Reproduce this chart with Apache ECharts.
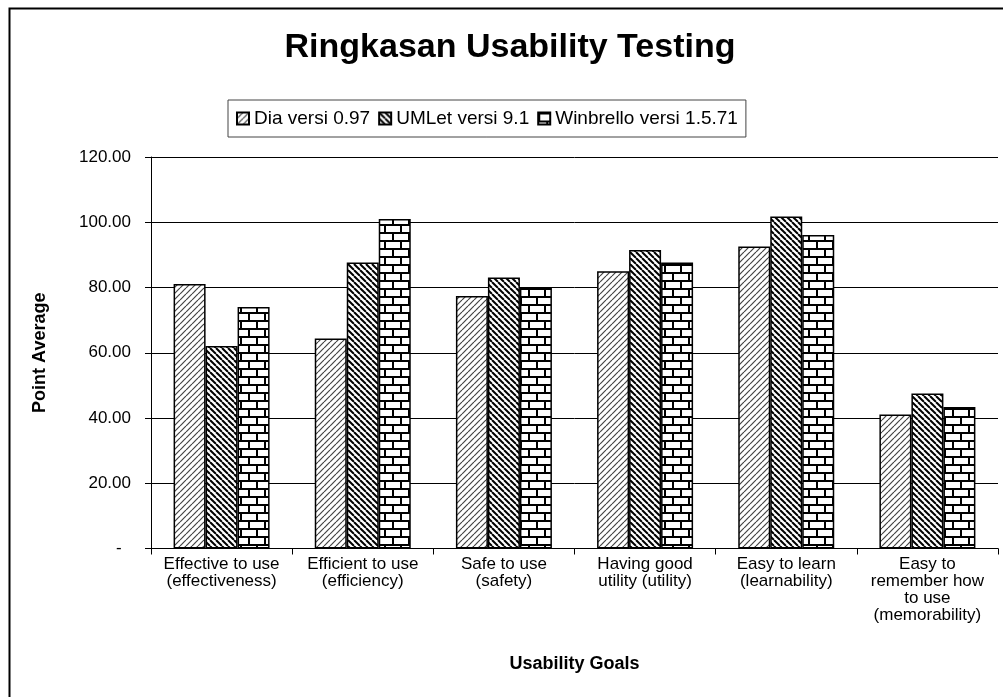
<!DOCTYPE html>
<html>
<head>
<meta charset="utf-8">
<script src="https://cdn.jsdelivr.net/npm/echarts@6/dist/echarts.min.js"></script>
<style>
  html, body { margin: 0; padding: 0; background: #fff; }
  #main { width: 1003px; height: 697px; }
</style>
</head>
<body>
<div id="main"></div>
<script>
// data
var categories = [
    'Effective to use\n(effectiveness)',
    'Efficient to use\n(efficiency)',
    'Safe to use\n(safety)',
    'Having good\nutility (utility)',
    'Easy to learn\n(learnability)',
    'Easy to\nremember how\nto use\n(memorability)'
]
var seriesNames = ['Dia versi 0.97', 'UMLet versi 9.1', 'Winbrello versi 1.5.71']
var diaValues = [81.1, 64.4, 77.4, 85.0, 92.6, 41.1]
var umletValues = [62.1, 87.7, 83.1, 91.5, 101.8, 47.5]
var winbrelloValues = [74.0, 101.0, 79.9, 87.7, 96.1, 43.4]
var yTicks = [0, 20, 40, 60, 80, 100, 120]

// fill patterns, like the excel hatch fills
function diagTile(size, lineW, color, up) {
    var c = document.createElement('canvas')
    c.width = size
    c.height = size
    var ctx = c.getContext('2d')
    ctx.fillStyle = '#fff'
    ctx.fillRect(0, 0, size, size)
    ctx.strokeStyle = color
    ctx.lineWidth = lineW
    for (var k = -1; k <= 1; k++) {
        ctx.beginPath()
        if (up) {
            ctx.moveTo(k * size, size)
            ctx.lineTo(k * size + size, 0)
        } else {
            ctx.moveTo(k * size, 0)
            ctx.lineTo(k * size + size, size)
        }
        ctx.stroke()
    }
    return c
}
function brickTile() {
    var c = document.createElement('canvas')
    c.width = 16
    c.height = 16
    var ctx = c.getContext('2d')
    ctx.fillStyle = '#fff'
    ctx.fillRect(0, 0, 16, 16)
    ctx.fillStyle = '#000'
    ctx.fillRect(0, 0, 16, 2)
    ctx.fillRect(0, 8, 16, 2)
    ctx.fillRect(0, 2, 2, 6)
    ctx.fillRect(8, 10, 2, 6)
    return c
}

var patterns = [
    {image: diagTile(6, 1.2, '#444', true), repeat: 'repeat'},
    {image: diagTile(6, 2.0, '#000', false), repeat: 'repeat'},
    {image: brickTile(), repeat: 'repeat'}
]
var values = [diaValues, umletValues, winbrelloValues]

var chart = echarts.init(document.getElementById('main'))
var font = 'Liberation Sans, Arial, sans-serif'

var option = {
    animation: false,
    backgroundColor: '#fff',
    textStyle: {fontFamily: font, color: '#000'},
    title: {
        text: 'Ringkasan Usability Testing',
        left: 505,
        textAlign: 'center',
        top: 26,
        textStyle: {fontFamily: font, fontSize: 34, fontWeight: 'bold', color: '#000'}
    },
    legend: {
        data: seriesNames,
        left: 228,
        top: 100,
        padding: [9, 8],
        itemGap: 8,
        itemWidth: 12,
        itemHeight: 12,
        icon: 'rect',
        borderColor: '#444',
        borderWidth: 1,
        textStyle: {fontFamily: font, fontSize: 19, color: '#000'}
    },
    grid: {left: 151, right: 5, top: 157, bottom: 148.5},
    xAxis: {
        type: 'category',
        data: categories,
        name: 'Usability Goals',
        nameLocation: 'middle',
        nameGap: 107,
        nameTextStyle: {fontFamily: font, fontSize: 18, fontWeight: 'bold', color: '#000'},
        axisLine: {lineStyle: {color: '#000', width: 1}},
        axisTick: {show: true, length: 6, lineStyle: {color: '#000'}},
        axisLabel: {
            interval: 0,
            margin: 7,
            fontFamily: font,
            fontSize: 17,
            lineHeight: 17,
            color: '#000'
        }
    },
    yAxis: {
        type: 'value',
        min: yTicks[0],
        max: yTicks[yTicks.length - 1],
        interval: 20,
        name: 'Point Average',
        nameLocation: 'middle',
        nameGap: 102,
        nameTextStyle: {fontFamily: font, fontSize: 18, fontWeight: 'bold', color: '#000'},
        axisLine: {show: true, lineStyle: {color: '#000', width: 1}},
        axisTick: {show: true, length: 6, lineStyle: {color: '#000'}},
        splitLine: {show: true, lineStyle: {color: '#000', width: 1}},
        axisLabel: {
            margin: 20,
            fontFamily: font,
            fontSize: 17,
            color: '#000',
            formatter: function (v) {
                return v === 0 ? '-  ' : v.toFixed(2)
            }
        }
    },
    series: seriesNames.map(function (name, i) {
        return {
            name: name,
            type: 'bar',
            data: values[i],
            barGap: '0%',
            barCategoryGap: '32%',
            itemStyle: {
                color: patterns[i],
                borderColor: '#000',
                borderWidth: 1.5
            }
        }
    }),
    graphic: [{
        type: 'rect',
        left: 7,
        top: 6,
        shape: {width: 1100, height: 800},
        style: {fill: null, stroke: '#000', lineWidth: 2},
        silent: true
    }]
}

chart.setOption(option)
</script>
</body>
</html>
